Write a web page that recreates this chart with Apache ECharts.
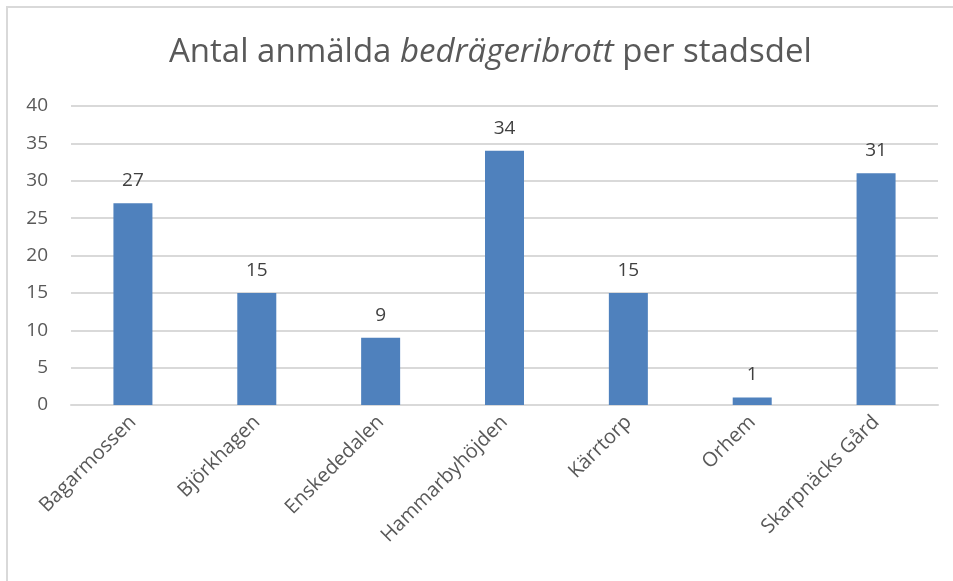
<!DOCTYPE html>
<html>
<head>
<meta charset="utf-8">
<script src="https://cdn.jsdelivr.net/npm/echarts@6/dist/echarts.min.js"></script>
<style>
  html, body { margin: 0; padding: 0; background: #fff; }
  #frame { position: absolute; left: 6px; top: 6px; width: 960px; height: 590px; border: 2px solid #d9d9d9; box-sizing: border-box; }
  #chart { position: absolute; left: 0; top: 0; width: 953px; height: 581px; }
</style>
</head>
<body>
<div id="frame"></div>
<div id="chart"></div>
<script>
// stadsdelar och antal anmälningar
var categories = ['Bagarmossen', 'Björkhagen', 'Enskededalen', 'Hammarbyhöjden', 'Kärrtorp', 'Orhem', 'Skarpnäcks Gård'];
var values = [27, 15, 9, 34, 15, 1, 31];
var yTicks = [0, 5, 10, 15, 20, 25, 30, 35, 40];

var font = '"Open Sans", sans-serif';
var chart = echarts.init(document.getElementById('chart'), null, { renderer: 'canvas' });

chart.setOption({
    animation: false,
    title: {
        text: '{a|Antal anmälda }{b|bedrägeribrott}{a| per stadsdel}',
        left: 164,
        top: 31,
        textStyle: {
            fontWeight: 'normal',
            rich: {
                a: { fontFamily: font, fontSize: 33, fontWeight: 'normal', color: '#595959' },
                b: { fontFamily: font, fontSize: 33, fontWeight: 'normal', color: '#595959', fontStyle: 'italic' }
            }
        }
    },
    grid: { left: 71, right: 15, top: 106, bottom: 176 },
    xAxis: {
        type: 'category',
        data: categories,
        axisLine: { lineStyle: { color: '#d9d9d9', width: 2 } },
        axisTick: { show: false },
        axisLabel: {
            rotate: 45,
            margin: 14,
            interval: 0,
            fontFamily: font,
            fontSize: 20,
            color: '#595959'
        }
    },
    yAxis: {
        type: 'value',
        min: yTicks[0],
        max: yTicks[yTicks.length - 1],
        interval: 5,
        axisLine: { show: false },
        axisTick: { show: false },
        splitLine: { lineStyle: { color: '#d9d9d9', width: 2 } },
        axisLabel: { margin: 23, fontFamily: font, fontSize: 19, color: '#595959' }
    },
    series: [{
        type: 'bar',
        data: values,
        barWidth: 39,
        itemStyle: { color: '#4f81bd' },
        label: {
            show: true,
            position: 'top',
            distance: 13,
            fontFamily: font,
            fontSize: 19,
            color: '#404040'
        }
    }]
});
</script>
</body>
</html>
